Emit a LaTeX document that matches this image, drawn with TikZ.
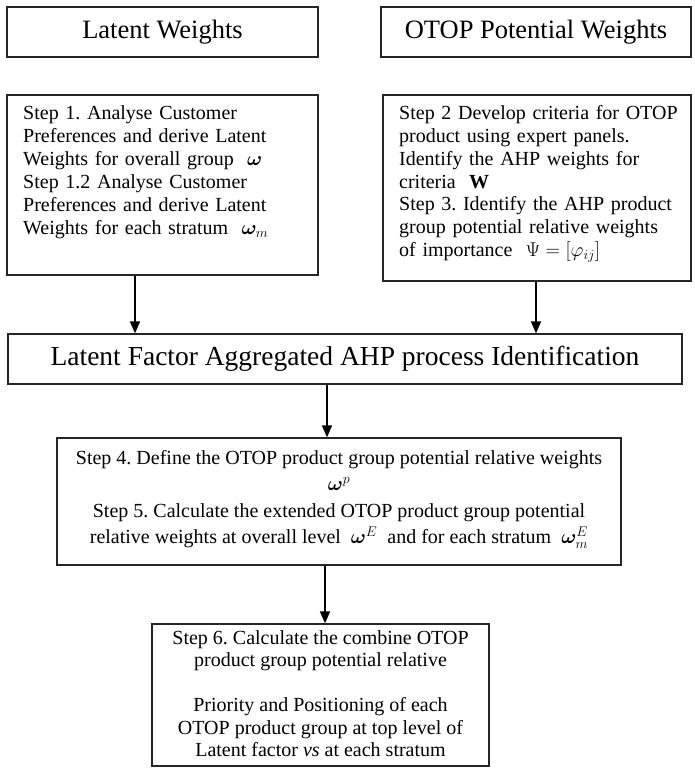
\documentclass[tikz,border=0pt]{standalone}
\usepackage{fix-cm}
\usepackage{amsmath,bm}
\usepackage{fontspec}
\setmainfont{Liberation Serif}
\usetikzlibrary{arrows.meta,calc}
\frenchspacing
\begin{document}
\begin{tikzpicture}[x=1pt,y=-1pt,
  box/.style={draw=black!85, line width=1.3pt, inner sep=0pt},
  ttl/.style={font=\fontsize{26.5}{30}\selectfont},
  body/.style={font=\fontsize{20}{23}\selectfont, inner sep=0pt},
  arr/.style={line width=1.6pt, -{Triangle[length=12pt,width=10pt]}}]
\useasboundingbox (0,0) rectangle (695,771);
% title boxes
\node[box, ttl, minimum width=311pt, minimum height=50pt] (lw) at (162.5,32) {Latent Weights};
\node[box, ttl, minimum width=310pt, minimum height=50pt] (ow) at (536,32) {OTOP Potential Weights};
% step 1 box
\node[box, minimum width=311pt, minimum height=180pt] (s1) at (162.5,185) {};
\node[body, anchor=north west, text width=295pt, align=left] (s1t) at (23,105.5) {\frenchspacing Step 1. Analyse Customer\\
Preferences and derive Latent\\
Weights for overall group \ $\bm{\omega}$\\
Step 1.2 Analyse Customer\\
Preferences and derive Latent\\
Weights for each stratum \ $\bm{\omega}_{m}$};
% step 2 box
\node[box, minimum width=308pt, minimum height=186pt] (s2) at (537,188) {};
\node[body, font=\fontsize{20}{22.8}\selectfont, anchor=north west, text width=295pt, align=left] (s2t) at (399,105.5) {\frenchspacing Step 2 Develop criteria for OTOP\\
product using expert panels.\\
Identify the AHP weights for\\
criteria \ $\mathbf{W}$\\
Step 3. Identify the AHP product\\
group potential relative weights\\
of importance \ $\Psi=[\varphi_{ij}]$};
% latent factor box
\node[box, font=\fontsize{27.5}{31}\selectfont, minimum width=674pt, minimum height=50pt] (lf) at (345,359) {Latent Factor Aggregated AHP process Identification};
% step 4 box
\node[box, minimum width=564pt, minimum height=127pt] (s4) at (339,501.5) {};
\node[body, font=\fontsize{20}{26.5}\selectfont, anchor=north, align=center] (s4t) at (339,450) {\frenchspacing Step 4. Define the OTOP product group potential relative weights\\
$\bm{\omega}^{p}$\\
Step 5. Calculate the extended OTOP product group potential\\
relative weights at overall level \ $\bm{\omega}^{E}$ \ and for each stratum \ $\bm{\omega}_{m}^{E}$};
% step 6 box
\node[box, minimum width=337pt, minimum height=142pt] (s6) at (320.5,695) {};
\node[body, font=\fontsize{20}{22.5}\selectfont, anchor=north, align=center] (s6t) at (320.5,630) {\frenchspacing Step 6. Calculate the combine OTOP\\
product group potential relative\\[22.5pt]
Priority and Positioning of each\\
OTOP product group at top level of\\
Latent factor \textit{vs} at each stratum};
% arrows
\coordinate (c1) at (135,0);
\coordinate (c2) at (536,0);
\coordinate (c3) at (327,0);
\coordinate (c4) at (325,0);
\draw[arr] (s1.south -| c1) -- (lf.north -| c1);
\draw[arr] (s2.south -| c2) -- (lf.north -| c2);
\draw[arr] (lf.south -| c3) -- (s4.north -| c3);
\draw[arr] (s4.south -| c4) -- (s6.north -| c4);
\end{tikzpicture}
\end{document}
